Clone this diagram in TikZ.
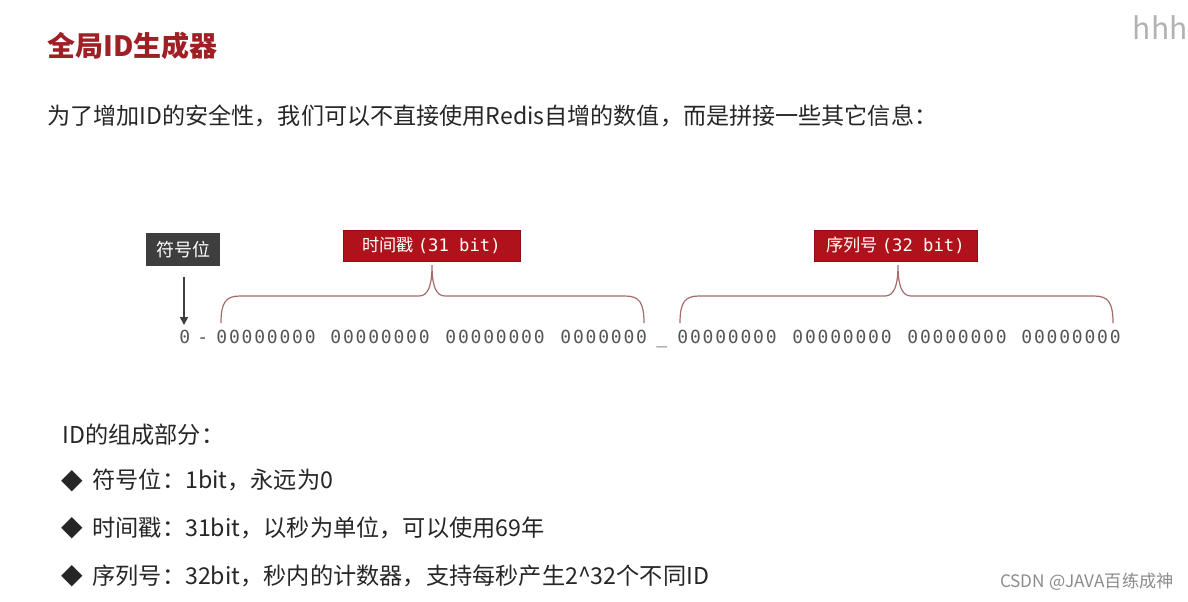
\documentclass[tikz,border=0pt]{standalone}
\usepackage{fontspec}
\setmainfont{Noto Sans CJK SC}
\newfontfamily\bitfont[LetterSpace=10]{DejaVu Sans Mono}
\newfontfamily\tagmono{DejaVu Sans Mono}
\newfontfamily\symfont{DejaVu Sans}
\usepackage{tikz}
\usetikzlibrary{positioning, arrows.meta, calc}

\definecolor{titlered}{HTML}{9E1F24}
\definecolor{tagred}{HTML}{B0121B}
\definecolor{signgray}{HTML}{3E3E3E}
\definecolor{bracered}{HTML}{A86A6A}
\definecolor{bitgray}{HTML}{555555}
\definecolor{textgray}{HTML}{262626}

\begin{document}
\begin{tikzpicture}[
    x=0.5pt, y=-0.5pt,
    txt/.style={anchor=west, inner sep=0pt, font=\fontsize{11.55pt}{13pt}\selectfont, text=textgray},
    listtxt/.style={txt, font=\fontsize{11.6pt}{13pt}\selectfont},
    signbox/.style={rectangle, fill=signgray, text=white, inner sep=0pt,
                minimum width=37pt, minimum height=16.5pt, font=\fontsize{9pt}{10pt}\selectfont},
    tagbox/.style={rectangle, fill=tagred, draw=tagred!80!black, line width=0.3pt, text=white,
                inner sep=0pt, minimum height=15.5pt, font=\fontsize{8.6pt}{10pt}\selectfont},
    bits/.style={anchor=base west, inner sep=0pt, text=bitgray, font=\bitfont\fontsize{9pt}{10pt}\selectfont},
    brace/.style={draw=bracered, line width=0.6pt},
    arr/.style={-{Triangle[length=4pt, width=4pt]}, thick, signgray},
    bullet/.style={inner sep=0pt, font=\symfont\fontsize{14pt}{14pt}\selectfont, text=textgray},
]
\useasboundingbox[fill=white] (0,0) rectangle (1188,601);

% Heading
\node[txt, font=\bfseries\fontsize{14pt}{16pt}\selectfont, text=titlered] (title) at (47, 46) {全局ID生成器};
\node[txt] (intro) at (47, 116) {为了增加ID的安全性，我们可以不直接使用Redis自增的数值，而是拼接一些其它信息：};

% Watermarks
\node[anchor=east, inner sep=0pt, text=black!30, font=\fontsize{15pt}{16pt}\selectfont] (hhh) at (1188, 28) {hhh};
\node[anchor=east, inner sep=0pt, text=black!45, font=\fontsize{8.6pt}{10pt}\selectfont] (csdn) at (1174, 582) {CSDN @JAVA百练成神};

% Labels
\node[signbox] (sign) at (183, 249.5) {符号位};
\node[tagbox, minimum width=88.5pt] (stamp) at (431.5, 245.5) {时间戳 {\tagmono (31 bit)}};
\node[tagbox, minimum width=81.5pt] (seq) at (895.5, 245.5) {序列号 {\tagmono (32 bit)}};

% Bit string
\node[bits] (b0) at (179, 343) {0};
\node[bits] (dash) at (197, 343) {-};
\foreach \i/\x/\s in {1/216/00000000, 2/330/00000000, 3/445/00000000, 4/560/0000000,
                      5/677/00000000, 6/792/00000000, 7/907/00000000, 8/1021/00000000} {
    \node[bits] (g\i) at (\x, 343) {\s};
}
\node[bits] (gap) at (656, 343) {\_};

% Arrow to sign bit
\coordinate (signtip) at (184, 325);
\draw[arr] ($(sign.south)+(1,11)$) -- (signtip);

% Braces
\coordinate (tsl) at (221, 323);
\coordinate (tsr) at (644, 323);
\coordinate (tstip) at (432, 265);
\draw[brace] (tsl) .. controls (221,302) and (226,296) .. (240,296) -- (419,296)
    .. controls (428,296) and (432,286) .. (tstip)
    .. controls (432,286) and (436,296) .. (445,296) -- (625,296)
    .. controls (639,296) and (644,302) .. (tsr);

\coordinate (sql) at (680, 323);
\coordinate (sqr) at (1113, 323);
\coordinate (sqtip) at (898, 265);
\draw[brace] (sql) .. controls (680,302) and (685,296) .. (699,296) -- (885,296)
    .. controls (894,296) and (898,286) .. (sqtip)
    .. controls (898,286) and (902,296) .. (911,296) -- (1094,296)
    .. controls (1108,296) and (1113,302) .. (sqr);

% Parts list
\node[listtxt] (parts) at (62, 435) {ID的组成部分：};
\node[bullet] (m1) at (72, 481) {◆};
\node[bullet] (m2) at (72, 528) {◆};
\node[bullet] (m3) at (72, 576) {◆};
\node[listtxt] (p1) at (92, 480) {符号位：1bit，永远为0};
\node[listtxt] (p2) at (92, 528) {时间戳：31bit，以秒为单位，可以使用69年};
\node[listtxt] (p3) at (92, 576) {序列号：32bit，秒内的计数器，支持每秒产生2\^{}32个不同ID};

\end{tikzpicture}
\end{document}
